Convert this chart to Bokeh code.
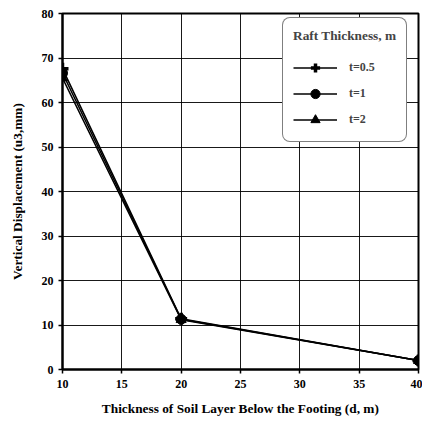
from bokeh.plotting import figure
from bokeh.models import Legend, LegendItem, FixedTicker, Range1d
from bokeh.embed import file_html
from bokeh.resources import INLINE

depth = [10, 20, 40]
t05 = [67.6, 11.4, 2.0]
t1 = [66.6, 11.3, 2.0]
t2 = [65.5, 11.2, 2.0]
x_ticks = [10, 15, 20, 25, 30, 35, 40]
y_ticks = [0, 10, 20, 30, 40, 50, 60, 70, 80]

FONT = "Liberation Serif"

p = figure(width=422, height=423, output_backend="svg", toolbar_location=None,
           x_range=Range1d(10, 40), y_range=Range1d(0, 80),
           min_border_left=62, min_border_right=4, min_border_top=13, min_border_bottom=54)

p.outline_line_color = "black"
p.outline_line_width = 2
p.background_fill_color = "white"

for ax in (p.xaxis[0], p.yaxis[0]):
    ax.axis_line_width = 2
    ax.axis_line_color = "black"
    ax.major_tick_line_color = "black"
    ax.major_tick_line_width = 1.5
    ax.major_tick_out = 4
    ax.major_tick_in = 0
    ax.minor_tick_line_color = None
    ax.major_label_text_font = FONT
    ax.major_label_text_font_style = "bold"
    ax.major_label_text_font_size = "9pt"
    ax.major_label_text_color = "black"
    ax.axis_label_text_font = FONT
    ax.axis_label_text_font_style = "bold"
    ax.axis_label_text_font_size = "10pt"
    ax.axis_label_text_color = "black"

p.xaxis.ticker = FixedTicker(ticks=x_ticks)
p.yaxis.ticker = FixedTicker(ticks=y_ticks)
p.xaxis.axis_label = "Thickness of Soil Layer Below the Footing (d, m)"
p.yaxis.axis_label = "Vertical Displacement (u3,mm)"
p.xaxis.axis_label_standoff = 10
p.yaxis.axis_label_standoff = 14
p.xaxis.major_label_standoff = 6
p.yaxis.major_label_standoff = 5

p.xgrid.ticker = FixedTicker(ticks=x_ticks)
p.ygrid.ticker = FixedTicker(ticks=y_ticks)
p.grid.grid_line_color = "black"
p.grid.grid_line_width = 1
p.grid.grid_line_alpha = 0.9

l1 = p.line(depth, t05, line_color="black", line_width=1.5)
m1 = p.scatter(depth, t05, marker="cross", size=12, line_color="black", line_width=3.5)
l2 = p.line(depth, t1, line_color="black", line_width=1.5)
m2 = p.scatter(depth, t1, marker="circle", size=10, fill_color="black", line_color="black")
l3 = p.line(depth, t2, line_color="black", line_width=1.5)
m3 = p.scatter(depth, t2, marker="triangle", size=10, fill_color="black", line_color="black")

legend = Legend(items=[
    LegendItem(label="t=0.5", renderers=[l1, m1]),
    LegendItem(label="t=1", renderers=[l2, m2]),
    LegendItem(label="t=2", renderers=[l3, m3]),
], location=(220, 227))
legend.title = "Raft Thickness, m"
legend.title_text_font = FONT
legend.title_text_font_style = "bold"
legend.title_text_font_size = "10pt"
legend.title_standoff = 12
legend.label_text_font = FONT
legend.label_text_font_style = "bold"
legend.label_text_font_size = "9pt"
legend.glyph_width = 44
legend.glyph_height = 23
legend.label_standoff = 12
legend.spacing = 3
legend.padding = 10
legend.margin = 0
legend.border_line_color = "black"
legend.border_line_width = 1
legend.background_fill_color = "white"
legend.background_fill_alpha = 1
legend.border_radius = 8
p.add_layout(legend)

open("out.html", "w").write(file_html(p, INLINE))
